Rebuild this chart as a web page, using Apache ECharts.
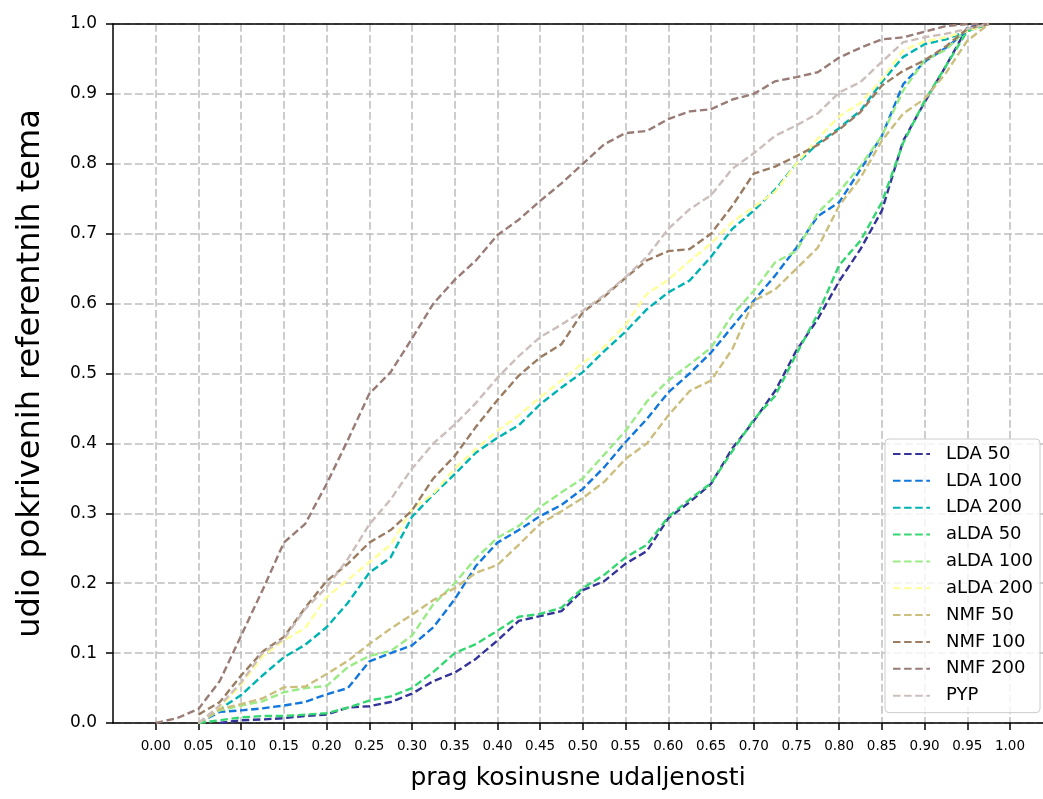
<!DOCTYPE html>
<html>
<head>
<meta charset="utf-8">
<script src="https://cdn.jsdelivr.net/npm/echarts@6/dist/echarts.min.js"></script>
<style>
html,body{margin:0;padding:0;background:#fff;}
#chart{width:1043px;height:799px;}
</style>
</head>
<body>
<div id="chart"></div>
<script>
// sampling positions along the x axis (cosine distance threshold)
const xValues = [0.000,0.025,0.050,0.075,0.100,0.125,0.150,0.175,0.200,0.225,0.250,0.275,0.300,0.325,0.350,0.375,0.400,0.425,0.450,0.475,0.500,0.525,0.550,0.575,0.600,0.625,0.650,0.675,0.700,0.725,0.750,0.775,0.800,0.825,0.850,0.875,0.900,0.925,0.950,0.975,1.000];
const xTickValues = [0.00,0.05,0.10,0.15,0.20,0.25,0.30,0.35,0.40,0.45,0.50,0.55,0.60,0.65,0.70,0.75,0.80,0.85,0.90,0.95,1.00];
const seriesNames = ['LDA 50','LDA 100','LDA 200','aLDA 50','aLDA 100','aLDA 200','NMF 50','NMF 100','NMF 200','PYP'];

const lda50   = [null,null,null,0.0,0.004,0.005,0.007,0.010,0.012,0.022,0.024,0.030,0.042,0.060,0.072,0.092,0.118,0.146,0.153,0.160,0.190,0.203,0.228,0.246,0.293,0.316,0.342,0.393,0.432,0.475,0.533,0.578,0.632,0.678,0.733,0.833,0.888,0.940,0.995,1.0,null];
const lda100  = [null,null,0.0,0.016,0.018,0.021,0.025,0.030,0.041,0.050,0.088,0.100,0.111,0.137,0.177,0.225,0.258,0.276,0.296,0.312,0.335,0.366,0.402,0.435,0.473,0.500,0.530,0.567,0.604,0.640,0.680,0.725,0.745,0.792,0.840,0.914,0.946,0.966,0.990,1.0,null];
const lda200  = [null,null,0.0,0.020,0.040,0.068,0.094,0.112,0.137,0.172,0.215,0.237,0.295,0.327,0.356,0.387,0.408,0.426,0.456,0.480,0.502,0.532,0.560,0.592,0.616,0.633,0.667,0.707,0.733,0.763,0.800,0.829,0.851,0.876,0.917,0.953,0.971,0.978,0.990,1.0,null];
const alda50  = [null,null,0.0,0.004,0.008,0.010,0.010,0.012,0.014,0.022,0.032,0.038,0.050,0.073,0.100,0.113,0.132,0.152,0.156,0.165,0.193,0.212,0.237,0.255,0.295,0.320,0.343,0.389,0.434,0.468,0.528,0.585,0.655,0.690,0.745,0.830,0.890,0.940,0.990,1.0,null];
const alda100 = [null,null,0.0,0.018,0.025,0.031,0.044,0.050,0.053,0.080,0.096,0.103,0.125,0.170,0.200,0.236,0.265,0.282,0.309,0.330,0.350,0.384,0.418,0.460,0.490,0.513,0.537,0.584,0.618,0.659,0.675,0.730,0.760,0.797,0.840,0.905,0.948,0.963,0.993,1.0,null];
const alda200 = [null,null,0.0,0.022,0.055,0.095,0.118,0.136,0.180,0.205,0.230,0.255,0.306,0.328,0.364,0.392,0.418,0.440,0.466,0.490,0.515,0.538,0.570,0.614,0.634,0.661,0.686,0.717,0.738,0.760,0.800,0.836,0.868,0.887,0.921,0.962,0.975,0.981,0.990,1.0,null];
const nmf50   = [null,null,0.0,0.020,0.027,0.035,0.051,0.052,0.070,0.089,0.113,0.135,0.155,0.176,0.193,0.215,0.226,0.255,0.285,0.303,0.322,0.345,0.378,0.400,0.440,0.475,0.490,0.535,0.604,0.620,0.650,0.680,0.740,0.780,0.833,0.872,0.893,0.930,0.976,1.0,null];
const nmf100  = [null,null,0.012,0.030,0.068,0.102,0.123,0.165,0.203,0.228,0.258,0.276,0.304,0.350,0.382,0.424,0.462,0.497,0.523,0.542,0.588,0.610,0.637,0.662,0.675,0.678,0.700,0.740,0.786,0.796,0.811,0.827,0.849,0.874,0.912,0.933,0.948,0.968,0.993,1.0,null];
const nmf200  = [0.0,0.007,0.020,0.060,0.125,0.190,0.258,0.285,0.342,0.405,0.471,0.502,0.550,0.600,0.634,0.662,0.698,0.720,0.747,0.772,0.800,0.828,0.844,0.847,0.864,0.875,0.878,0.892,0.900,0.918,0.924,0.931,0.952,0.966,0.978,0.981,0.989,0.997,1.0,1.0,null];
const pyp     = [null,null,0.0,0.025,0.058,0.100,0.120,0.163,0.194,0.235,0.284,0.320,0.364,0.400,0.427,0.458,0.494,0.525,0.552,0.570,0.590,0.612,0.638,0.667,0.707,0.735,0.755,0.793,0.815,0.840,0.855,0.872,0.902,0.917,0.946,0.974,0.981,0.986,0.993,1.0,null];

const seriesValues = [lda50, lda100, lda200, alda50, alda100, alda200, nmf50, nmf100, nmf200, pyp];
const seriesColors = ['#333399','#1177dd','#00b3b3','#33d670','#99eb85','#ffff99','#ccbe7d','#997c62','#997c76','#ccbebb'];

const FONT = 'DejaVu Sans';
const chart = echarts.init(document.getElementById('chart'), null, {renderer: 'canvas'});

const series = seriesNames.map((name, i) => ({
  name: name,
  type: 'line',
  xAxisIndex: 0,
  yAxisIndex: 0,
  symbol: 'none',
  showSymbol: false,
  smooth: false,
  connectNulls: false,
  data: xValues.map((x, j) => [x, seriesValues[i][j]]),
  lineStyle: {color: seriesColors[i], width: 2.4, type: [7.5, 3.6]},
  itemStyle: {color: seriesColors[i]},
  emphasis: {disabled: true}
}));

const option = {
  animation: false,
  backgroundColor: '#ffffff',
  textStyle: {fontFamily: FONT},
  grid: {left: 113, top: 24, right: 0, bottom: 76, containLabel: false},
  xAxis: [{
    type: 'value',
    min: -0.05,
    max: 1.0386,
    interval: 0.05,
    name: 'prag kosinusne udaljenosti',
    nameLocation: 'middle',
    nameGap: 43,
    nameTextStyle: {fontFamily: FONT, fontSize: 25, color: '#000'},
    axisLine: {show: true, onZero: false, lineStyle: {color: '#000', width: 1.5}},
    axisTick: {show: true, inside: false, length: 7, customValues: xTickValues, lineStyle: {color: '#000', width: 1.5}},
    axisLabel: {show: true, customValues: xTickValues, margin: 16, fontFamily: FONT, fontSize: 13.5, color: '#000',
      formatter: v => v.toFixed(2)},
    splitLine: {show: true, lineStyle: {color: '#bdbdbd', width: 1.5, type: [7.7, 3.3]}}
  }, {
    type: 'value',
    position: 'top',
    min: -0.05,
    max: 1.0386,
    axisLine: {show: true, onZero: false, lineStyle: {color: '#000', width: 1.5}},
    axisTick: {show: false},
    axisLabel: {show: false},
    splitLine: {show: false}
  }],
  yAxis: [{
    type: 'value',
    min: 0,
    max: 1,
    interval: 0.1,
    name: 'udio pokrivenih referentnih tema',
    nameLocation: 'middle',
    nameGap: 66,
    nameTextStyle: {fontFamily: FONT, fontSize: 32, color: '#000'},
    axisLine: {show: true, onZero: false, lineStyle: {color: '#000', width: 1.5}},
    axisTick: {show: true, inside: false, length: 7, lineStyle: {color: '#000', width: 1.5}},
    axisLabel: {show: true, margin: 16, fontFamily: FONT, fontSize: 17, color: '#000', formatter: v => v.toFixed(1)},
    splitLine: {show: true, lineStyle: {color: '#bdbdbd', width: 1.5, type: [7.7, 3.3]}}
  }],
  legend: {
    show: true,
    orient: 'vertical',
    right: 3,
    top: 439,
    data: seriesNames,
    itemWidth: 37,
    itemHeight: 14,
    itemGap: 8.85,
    padding: [6, 7, 8, 7],
    backgroundColor: 'rgba(255,255,255,0.8)',
    borderColor: '#cccccc',
    borderWidth: 1,
    borderRadius: 4,
    selectedMode: false,
    itemStyle: {opacity: 0},
    textStyle: {fontFamily: FONT, fontSize: 18, color: '#000', padding: [0, 0, 0, 11]}
  },
  series: series
};
chart.setOption(option);
</script>
</body>
</html>
